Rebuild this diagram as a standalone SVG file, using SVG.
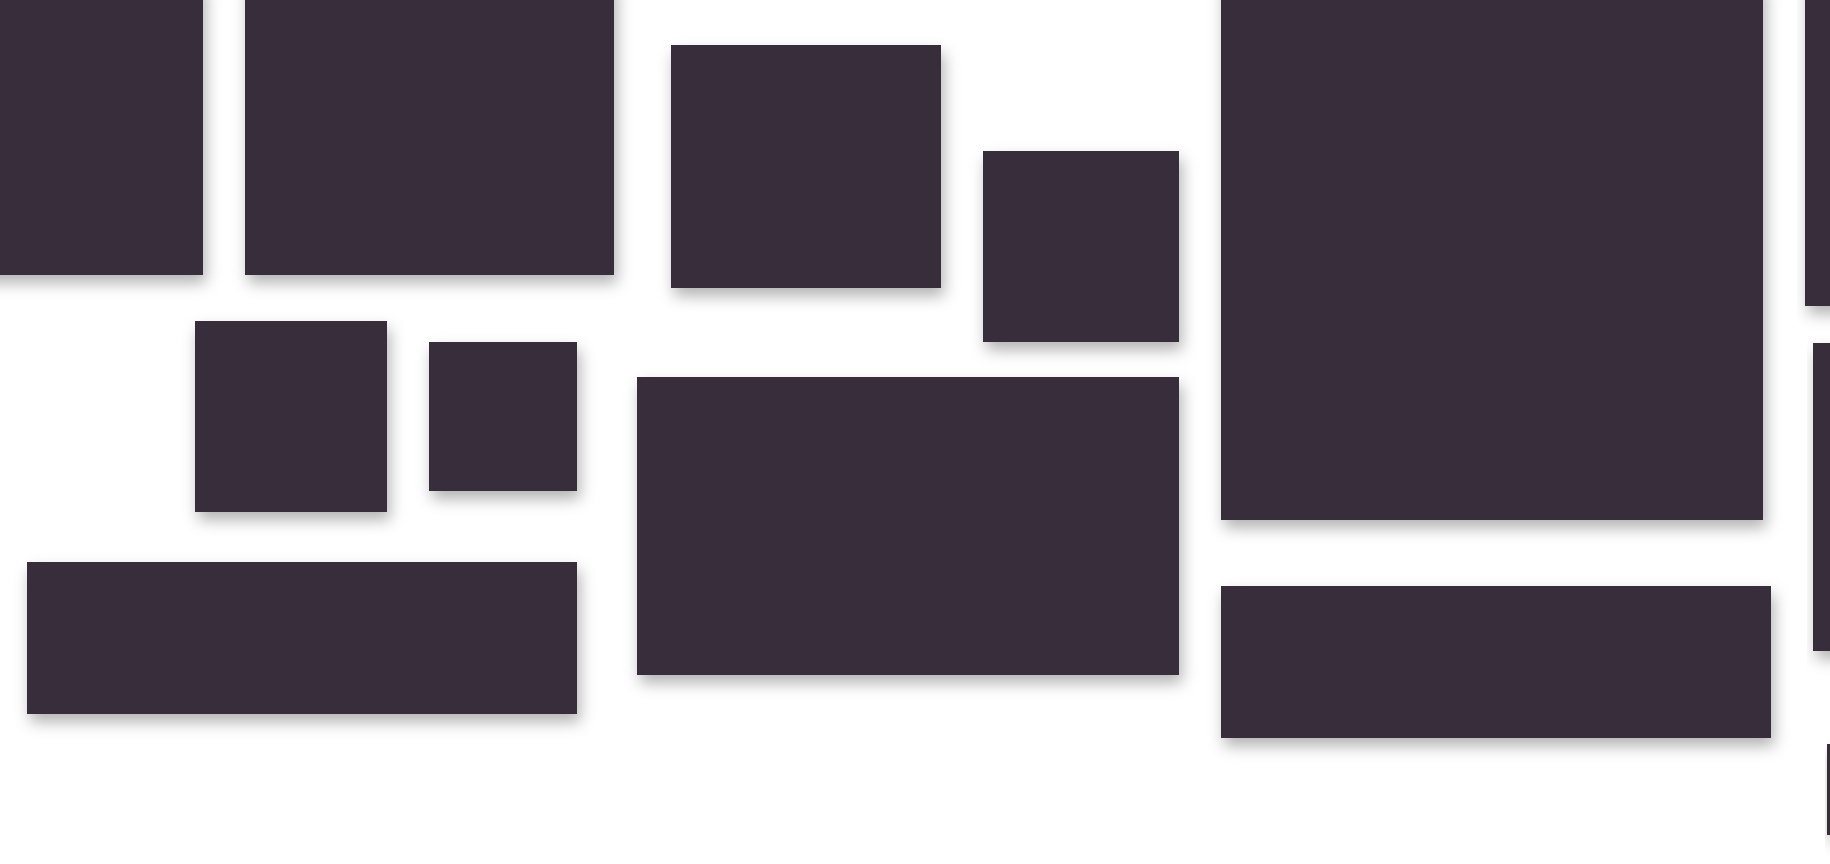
<svg xmlns="http://www.w3.org/2000/svg" width="1830" height="864" viewBox="0 0 1830 864">
<defs>
<filter id="sh" x="-20%" y="-20%" width="140%" height="160%">
<feDropShadow dx="3" dy="8" stdDeviation="7.5" flood-color="#000" flood-opacity="0.3"/>
</filter>
<style>.b{fill:#392d3a;filter:url(#sh)}</style>
</defs>
<rect width="1830" height="864" fill="#ffffff"/>
<g id="nodes">
<g id="n1"><rect class="b" x="-20" y="-20" width="223" height="295"/></g>
<g id="n2"><rect class="b" x="245" y="-20" width="369" height="295"/></g>
<g id="n3"><rect class="b" x="671" y="45" width="270" height="243"/></g>
<g id="n4"><rect class="b" x="983" y="151" width="196" height="191"/></g>
<g id="n5"><rect class="b" x="1221" y="-20" width="542" height="540"/></g>
<g id="n6"><rect class="b" x="1805" y="-20" width="40" height="326"/></g>
<g id="n7"><rect class="b" x="195" y="321" width="192" height="191"/></g>
<g id="n8"><rect class="b" x="429" y="342" width="148" height="149"/></g>
<g id="n9"><rect class="b" x="637" y="377" width="542" height="298"/></g>
<g id="n10"><rect class="b" x="27" y="562" width="550" height="152"/></g>
<g id="n11"><rect class="b" x="1221" y="586" width="550" height="152"/></g>
<g id="n12"><rect class="b" x="1813" y="343" width="30" height="308"/></g>
<g id="n13"><rect class="b" x="1827" y="744" width="10" height="91"/></g>
</g>
<g id="connectors"></g>
</svg>
